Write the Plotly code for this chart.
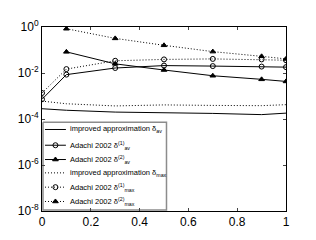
import plotly.graph_objects as go

x_all = [0, 0.1, 0.3, 0.5, 0.7, 0.9, 1.0]
x_tri = [0.1, 0.3, 0.5, 0.7, 0.9, 1.0]

improved_av = [2.8e-4, 2.4e-4, 2.0e-4, 1.9e-4, 1.75e-4, 1.55e-4, 1.8e-4]
adachi_av1 = [7.2e-4, 8.5e-3, 0.0165, 0.021, 0.020, 0.019, 0.018]
adachi_av2 = [0.083, 0.025, 0.0135, 7.6e-3, 5.3e-3, 4.3e-3]
improved_max = [6.0e-4, 4.6e-4, 3.7e-4, 4.1e-4, 3.9e-4, 3.8e-4, 4.2e-4]
adachi_max1 = [1.35e-3, 0.0148, 0.034, 0.039, 0.041, 0.039, 0.036]
adachi_max2 = [0.84, 0.32, 0.16, 0.085, 0.053, 0.041]

names = [
    "improved approximation δ<sub>av</sub>",
    "Adachi 2002 δ<sup>(1)</sup><sub>av</sub>",
    "Adachi 2002 δ<sup>(2)</sup><sub>av</sub>",
    "improved approximation δ<sub>max</sub>",
    "Adachi 2002 δ<sup>(1)</sup><sub>max</sub>",
    "Adachi 2002 δ<sup>(2)</sup><sub>max</sub>",
]

xticks = [0, 0.2, 0.4, 0.6, 0.8, 1]
xticklabels = ["0", "0.2", "0.4", "0.6", "0.8", "1"]
yticks = [1, 1e-2, 1e-4, 1e-6, 1e-8]
yticklabels = ["10<sup>0</sup>", "10<sup>-2</sup>", "10<sup>-4</sup>", "10<sup>-6</sup>", "10<sup>-8</sup>"]

DOT = "1px,2px"
series = [
    (x_all, improved_av, "solid", "lines", None),
    (x_all, adachi_av1, "solid", "lines+markers", "circle-open"),
    (x_tri, adachi_av2, "solid", "lines+markers", "triangle-up"),
    (x_all, improved_max, DOT, "lines", None),
    (x_all, adachi_max1, DOT, "lines+markers", "circle-open"),
    (x_tri, adachi_max2, DOT, "lines+markers", "triangle-up"),
]

fig = go.Figure()
for (xs, ys, dash, mode, sym), nm in zip(series, names):
    kw = dict(x=xs, y=ys, name=nm, mode=mode, showlegend=False,
              line=dict(color="black", width=1, dash=dash))
    if sym:
        kw["marker"] = dict(symbol=sym, size=5, color="black",
                            line=dict(color="black", width=1))
    fig.add_trace(go.Scatter(**kw))

# ---- compact legend drawn on an overlay axis in (page) pixel units ----
L_X0, L_X1, L_Y0, L_Y1 = 42, 166, 118, 210
entry_y = [125.5, 142, 157, 171, 186, 201]
fig.add_trace(go.Scatter(
    x=[L_X0, L_X1, L_X1, L_X0, L_X0], y=[L_Y0, L_Y0, L_Y1, L_Y1, L_Y0],
    mode="lines", fill="toself", fillcolor="white",
    line=dict(color="#8c8c8c", width=1.5), xaxis="x2", yaxis="y2",
    showlegend=False, hoverinfo="skip"))
annotations = []
for (xs, ys, dash, mode, sym), nm, ey in zip(series, names, entry_y):
    fig.add_trace(go.Scatter(
        x=[44, 65], y=[ey, ey], mode="lines", xaxis="x2", yaxis="y2",
        line=dict(color="black", width=1, dash=dash),
        showlegend=False, hoverinfo="skip"))
    if sym:
        fig.add_trace(go.Scatter(
            x=[54.5], y=[ey], mode="markers", xaxis="x2", yaxis="y2",
            marker=dict(symbol=sym, size=5, color="black",
                        line=dict(color="black", width=1)),
            showlegend=False, hoverinfo="skip"))
    annotations.append(dict(
        x=67.5, y=ey, xref="x2", yref="y2", text=nm, showarrow=False,
        xanchor="left", yanchor="middle",
        font=dict(size=7.5, family="Liberation Sans, Arial", color="black")))

# page body has an 8px margin, so the figure is 8px smaller and shifted
fig.update_layout(
    width=308, height=232,
    margin=dict(l=33, r=30, t=10, b=29),
    paper_bgcolor="white", plot_bgcolor="white",
    font=dict(family="Liberation Sans, Arial", size=12, color="black"),
    showlegend=False,
    annotations=annotations,
    xaxis=dict(range=[0, 1], tickvals=xticks, ticktext=xticklabels,
               ticks="inside", ticklen=3, showline=True, linecolor="black",
               linewidth=1, mirror="ticks", showgrid=False, zeroline=False),
    yaxis=dict(type="log", range=[-8, 0], tickvals=yticks, ticktext=yticklabels,
               ticks="inside", ticklen=3, showline=True, linecolor="black",
               linewidth=1, mirror="ticks", showgrid=False, zeroline=False),
    xaxis2=dict(overlaying="x", range=[41, 286], visible=False, fixedrange=True),
    yaxis2=dict(overlaying="y", range=[211, 18], visible=False, fixedrange=True),
)

fig.write_html("out.html")
